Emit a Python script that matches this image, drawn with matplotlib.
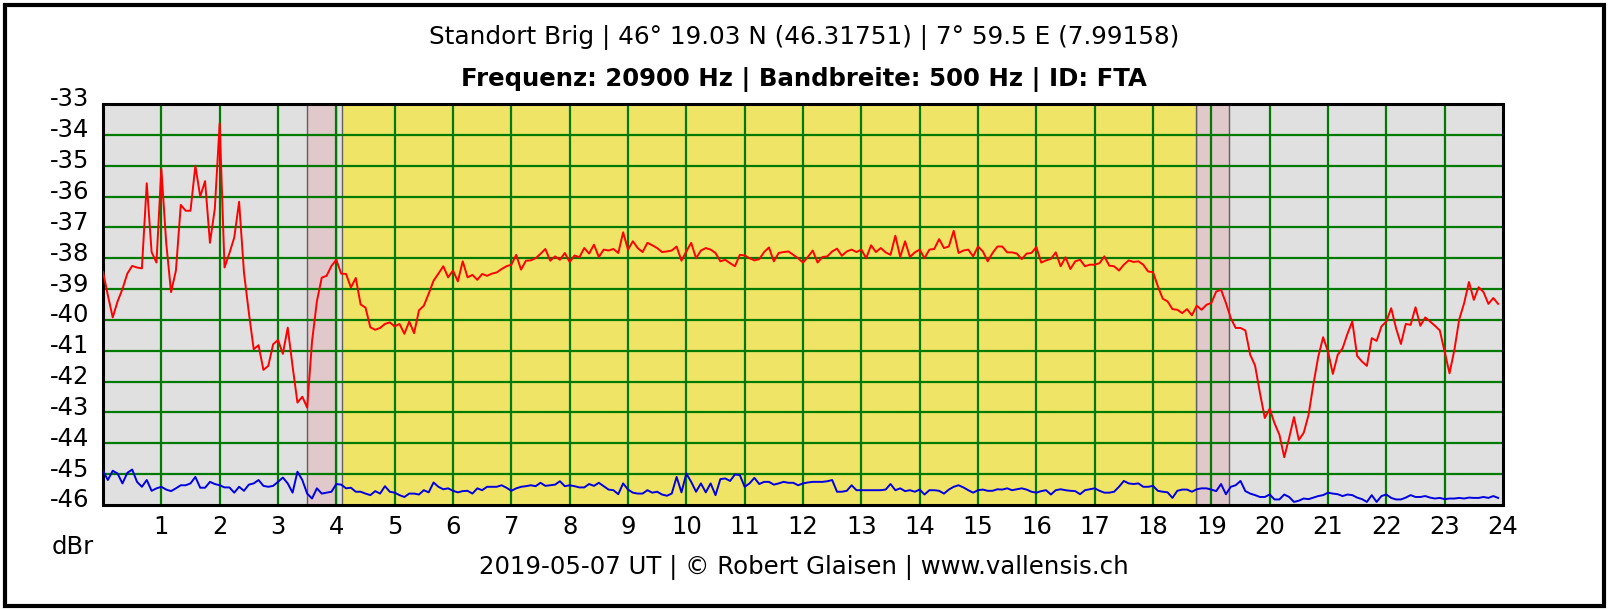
import numpy as np
import matplotlib
matplotlib.use("Agg")
import matplotlib.pyplot as plt
from matplotlib.patches import Rectangle
from matplotlib.transforms import ScaledTranslation

plt.rcParams["axes.unicode_minus"] = False

# 5-minute samples, 0:00 .. 23:55 UT
signal = [
    -38.44, -39.2, -39.92, -39.4, -39.0, -38.5, -38.25, -38.3, -38.33, -35.57, -37.8, -38.14,
    -35.1, -37.5, -39.1, -38.4, -36.27, -36.46, -36.46, -35.0, -36.0, -35.5, -37.5, -36.4,
    -33.63, -38.3, -37.84, -37.33, -36.17, -38.46, -39.76, -40.95, -40.82, -41.62, -41.49, -40.79,
    -40.65, -41.1, -40.25, -41.5, -42.68, -42.49, -42.84, -40.7, -39.4, -38.63, -38.57, -38.25,
    -38.05, -38.5, -38.51, -38.95, -38.64, -39.5, -39.6, -40.24, -40.32, -40.26, -40.13, -40.08,
    -40.21, -40.13, -40.45, -40.05, -40.43, -39.69, -39.54, -39.15, -38.73, -38.5, -38.26, -38.62,
    -38.4, -38.75, -38.1, -38.62, -38.54, -38.7, -38.51, -38.57, -38.5, -38.46, -38.35, -38.26,
    -38.21, -37.89, -38.37, -38.08, -38.07, -38.0, -37.86, -37.7, -38.08, -37.94, -38.05, -37.83,
    -38.12, -37.91, -37.97, -37.67, -37.85, -37.56, -37.96, -37.72, -37.75, -37.7, -37.83, -37.16,
    -37.72, -37.45, -37.67, -37.8, -37.5, -37.58, -37.67, -37.8, -37.78, -37.75, -37.62, -38.08,
    -37.78, -37.5, -38.0, -37.75, -37.67, -37.72, -37.83, -38.1, -38.05, -38.16, -38.26, -37.89,
    -37.91, -38.0, -38.07, -38.03, -37.8, -37.65, -38.1, -37.83, -37.8, -37.78, -37.89, -38.0,
    -38.14, -37.96, -37.75, -38.14, -37.96, -37.94, -37.78, -37.69, -37.92, -37.78, -37.72, -37.8,
    -37.72, -38.0, -37.58, -37.8, -37.67, -37.81, -37.89, -37.27, -37.96, -37.45, -37.96, -37.81,
    -37.72, -38.0, -37.72, -37.7, -37.38, -37.67, -37.62, -37.11, -37.83, -37.75, -37.72, -37.94,
    -37.62, -37.78, -38.1, -37.83, -37.62, -37.62, -37.81, -37.81, -37.85, -38.03, -37.85, -37.83,
    -37.64, -38.14, -38.07, -38.02, -37.81, -38.26, -37.97, -38.35, -38.1, -38.05, -38.26, -38.21,
    -38.21, -38.16, -37.94, -38.24, -38.26, -38.4, -38.21, -38.07, -38.12, -38.1, -38.21, -38.43,
    -38.45, -38.91, -39.31, -39.4, -39.65, -39.67, -39.78, -39.65, -39.85, -39.54, -39.67, -39.51,
    -39.45, -39.08, -39.02, -39.45, -39.94, -40.26, -40.26, -40.34, -41.13, -41.48, -42.37, -43.18,
    -42.88, -43.35, -43.72, -44.45, -43.83, -43.15, -43.89, -43.66, -43.08, -42.08, -41.19, -40.56,
    -41.03, -41.75, -41.13, -40.92, -40.45, -40.05, -41.17, -41.35, -41.49, -40.59, -40.68, -40.21,
    -40.05, -39.62, -40.27, -40.78, -40.13, -40.16, -39.59, -40.19, -39.92, -40.05, -40.19, -40.34,
    -41.03, -41.73, -40.97, -39.98, -39.46, -38.77, -39.35, -38.94, -39.1, -39.48, -39.29, -39.48,
]

noise = [
    -44.89, -45.19, -44.89, -44.98, -45.3, -44.96, -44.85, -45.25, -45.41, -45.19, -45.54, -45.46,
    -45.41, -45.5, -45.55, -45.46, -45.36, -45.36, -45.3, -45.09, -45.44, -45.44, -45.25, -45.32,
    -45.36, -45.43, -45.43, -45.6, -45.41, -45.54, -45.34, -45.3, -45.19, -45.38, -45.41, -45.38,
    -45.25, -45.11, -45.3, -45.6, -44.92, -45.19, -45.63, -45.79, -45.46, -45.63, -45.6, -45.57,
    -45.32, -45.34, -45.46, -45.44, -45.57, -45.57, -45.63, -45.68, -45.55, -45.63, -45.39, -45.57,
    -45.6, -45.68, -45.74, -45.63, -45.63, -45.66, -45.52, -45.59, -45.27, -45.41, -45.49, -45.46,
    -45.54, -45.59, -45.55, -45.54, -45.63, -45.46, -45.52, -45.41, -45.41, -45.41, -45.36, -45.44,
    -45.54, -45.46, -45.41, -45.39, -45.36, -45.39, -45.28, -45.38, -45.36, -45.34, -45.23, -45.39,
    -45.36, -45.39, -45.43, -45.43, -45.32, -45.38, -45.28, -45.39, -45.5, -45.52, -45.65, -45.3,
    -45.5, -45.6, -45.63, -45.63, -45.52, -45.6, -45.57, -45.66, -45.7, -45.63, -45.09, -45.59,
    -44.98, -45.25, -45.57, -45.3, -45.59, -45.3, -45.68, -45.16, -45.14, -45.22, -45.01, -45.03,
    -45.41, -45.3, -45.12, -45.32, -45.25, -45.25, -45.34, -45.3, -45.25, -45.28, -45.28, -45.36,
    -45.3, -45.27, -45.25, -45.25, -45.25, -45.23, -45.19, -45.57, -45.57, -45.54, -45.36, -45.52,
    -45.52, -45.52, -45.52, -45.52, -45.52, -45.5, -45.32, -45.52, -45.46, -45.55, -45.52, -45.57,
    -45.5, -45.66, -45.52, -45.52, -45.54, -45.63, -45.5, -45.41, -45.36, -45.43, -45.52, -45.6,
    -45.52, -45.5, -45.54, -45.54, -45.49, -45.5, -45.46, -45.52, -45.49, -45.46, -45.5, -45.57,
    -45.6, -45.55, -45.52, -45.66, -45.52, -45.49, -45.52, -45.54, -45.55, -45.65, -45.52, -45.49,
    -45.46, -45.54, -45.6, -45.6, -45.57, -45.41, -45.22, -45.3, -45.32, -45.3, -45.41, -45.41,
    -45.38, -45.54, -45.57, -45.59, -45.77, -45.54, -45.5, -45.5, -45.57, -45.49, -45.46, -45.46,
    -45.5, -45.55, -45.32, -45.65, -45.41, -45.36, -45.22, -45.55, -45.63, -45.68, -45.74, -45.74,
    -45.66, -45.82, -45.82, -45.66, -45.74, -45.9, -45.86, -45.79, -45.81, -45.76, -45.71, -45.68,
    -45.6, -45.63, -45.65, -45.71, -45.66, -45.68, -45.76, -45.81, -45.9, -45.68, -45.9, -45.71,
    -45.66, -45.77, -45.82, -45.82, -45.76, -45.68, -45.74, -45.74, -45.71, -45.76, -45.79, -45.77,
    -45.81, -45.79, -45.79, -45.77, -45.79, -45.76, -45.77, -45.77, -45.74, -45.77, -45.71, -45.77,
]

hours = np.arange(len(signal)) * 5 / 60.0

twilight = [(3.5, 4.0), (18.74, 19.31)]
daylight = (4.1, 18.74)

x_ticks = list(range(1, 25))
y_ticks = list(range(-46, -32))

title1 = "Standort Brig | 46° 19.03 N (46.31751) | 7° 59.5 E (7.99158)"
title2 = "Frequenz: 20900 Hz | Bandbreite: 500 Hz | ID: FTA"
footer = "2019-05-07 UT | © Robert Glaisen | www.vallensis.ch"

fig = plt.figure(figsize=(16.1, 6.1), dpi=100)
ax = fig.add_axes([103 / 1610, 1 - 505 / 610, 1400 / 1610, 401 / 610])
ax.set_facecolor("#e0e0e0")

for a, b in twilight:
    ax.axvspan(a, b, facecolor="#e0c8cb", edgecolor="#606060", lw=1, zorder=0)
ax.axvspan(daylight[0], daylight[1], facecolor="#f0e466", edgecolor="#606060", lw=1, zorder=0)

for h in range(1, 24):
    ax.axvline(h, color="#007a00", lw=1.6, zorder=1)
for v in range(-45, -33):
    ax.axhline(v, color="#007a00", lw=1.6, zorder=1)

ax.plot(hours, signal, color="#ff0000", lw=1.4, zorder=3)
ax.plot(hours, noise, color="#0000e0", lw=1.4, zorder=3)

ax.set_xlim(0, 24)
ax.set_ylim(-46, -33)
ax.set_xticks(x_ticks)
ax.set_yticks(y_ticks)
ax.tick_params(length=0, labelsize=17.5)
ax.tick_params(axis="x", pad=7)
ax.tick_params(axis="y", pad=10)
for lab in ax.get_yticklabels():
    lab.set_transform(lab.get_transform() + ScaledTranslation(0, 0.07, fig.dpi_scale_trans))
for s in ax.spines.values():
    s.set_linewidth(2.2)
    s.set_color("black")

fig.text(804 / 1610, 1 - 38 / 610, title1, ha="center", va="center", fontsize=17.8)
fig.text(804 / 1610, 1 - 79 / 610, title2, ha="center", va="center", fontsize=17.6, fontweight="bold")
fig.text(804 / 1610, 1 - 568 / 610, footer, ha="center", va="center", fontsize=17.6)
fig.text(52 / 1610, 1 - 547 / 610, "dBr", ha="left", va="center", fontsize=17.5)

fig.patches.append(Rectangle((5 / 1610, 4 / 610), 1599 / 1610, 601 / 610, transform=fig.transFigure,
                             fill=False, edgecolor="black", lw=3))

fig.savefig("out.png", dpi=100)
